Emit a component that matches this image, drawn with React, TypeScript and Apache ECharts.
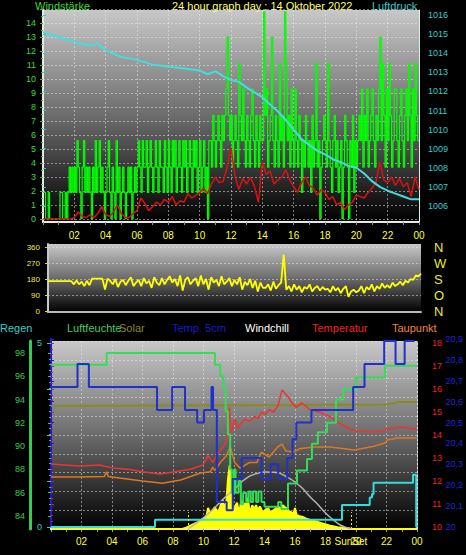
import React, { useEffect, useRef } from 'react';
import * as echarts from 'echarts';

// ---------- DATA ----------
const titleText = '24 hour graph day : 14 Oktober 2022';
const legendItems = ['Regen', 'Luftfeuchte', 'Solar', 'Temp. 5cm', 'Windchill', 'Temperatur', 'Taupunkt'];

// wind gusts, one value every 5 minutes from 00:00 to 24:00
const windGust5min = [
  1.9,1.9,0,0,1.9,0, 0,0,0,0,0,0, 0,1.9,1.9,0,0,1.9, 0,1.9,3.7,1.9,3.7,1.9,
  3.7,1.9,5.6,3.7,1.9,0, 3.7,5.6,1.9,3.7,1.9,3.7, 1.9,0,3.7,1.9,5.6,1.9, 3.7,5.6,1.9,3.7,1.9,0,
  1.9,3.7,5.6,1.9,0,3.7, 1.9,0,5.6,1.9,3.7,0, 1.9,3.7,1.9,0,1.9,3.7, 1.9,3.7,0,1.9,3.7,1.9,
  3.7,5.6,3.7,1.9,5.6,3.7, 3.7,5.6,1.9,3.7,5.6,3.7, 1.9,3.7,5.6,3.7,1.9,5.6, 3.7,3.7,1.9,5.6,3.7,1.9,
  5.6,3.7,1.9,5.6,3.7,5.6, 1.9,3.7,5.6,3.7,1.9,5.6, 3.7,5.6,1.9,3.7,5.6,3.7, 1.9,5.6,3.7,5.6,1.9,3.7,
  5.6,1.9,3.7,5.6,1.9,3.7, 0,5.6,5.6,3.7,7.4,5.6, 3.7,5.6,7.4,5.6,3.7,7.4, 5.6,7.4,9.3,13,7.4,5.6,
  7.4,3.7,5.6,7.4,5.6,3.7, 11.1,7.4,5.6,9.3,5.6,3.7, 7.4,5.6,3.7,7.4,9.3,5.6, 3.7,7.4,5.6,3.7,7.4,5.6,
  5.6,14.8,7.4,9.3,3.7,5.6, 7.4,13,5.6,3.7,7.4,5.6, 3.7,11.1,5.6,7.4,3.7,14.8, 11.1,5.6,7.4,3.7,9.3,5.6,
  3.7,9.3,5.6,3.7,7.4,5.6, 1.9,5.6,3.7,7.4,5.6,3.7, 5.6,1.9,7.4,3.7,5.6,11.1, 3.7,5.6,0,3.7,5.6,7.4,
  5.6,3.7,11.1,5.6,3.7,1.9, 5.6,7.4,3.7,5.6,1.9,3.7, 5.6,0,3.7,7.4,5.6,3.7, 0,5.6,3.7,7.4,1.9,5.6,
  3.7,5.6,7.4,5.6,9.3,3.7, 7.4,5.6,9.3,3.7,5.6,7.4, 9.3,5.6,3.7,7.4,5.6,9.3, 13,5.6,11.1,7.4,3.7,9.3,
  5.6,11.1,7.4,3.7,5.6,9.3, 9.3,5.6,3.7,7.4,9.3,5.6, 3.7,7.4,9.3,5.6,11.1,7.4, 3.7,9.3,5.6,11.1,7.4,5.6,
  5.6,
];

// average wind, one value every 15 minutes
const windAvg15min = [
  0,0,0,0,0,0,0,0,
  0.1,0.5,0.2,0.1,0.3,0.1,0.4,0.9,
  0.3,0.2,0.5,1.0,0.4,0.1,0.1,0.4,
  0.6,1.5,1.1,0.6,0.9,1.2,1.0,1.4,
  1.2,1.6,1.0,1.3,1.2,1.8,1.5,1.7,
  1.9,2.2,1.8,2.5,3.0,2.6,2.7,3.7,
  5.1,3.1,2.1,2.9,2.5,3.0,2.3,1.2,
  4.1,3.2,3.4,2.5,2.8,3.0,3.5,2.8,
  2.3,1.9,2.6,3.0,2.4,2.2,1.7,2.1,
  1.9,1.4,1.6,1.0,1.2,0.65,1.0,1.2,
  1.7,1.6,1.5,1.9,2.2,2.6,4.1,2.8,
  2.6,3.0,2.4,2.9,2.3,2.6,1.6,3.0,
  2.1,
];

// pressure [hour, hPa]
const pressure = [
  [0,1015.1],[1,1014.85],[2,1014.6],[3,1014.4],[3.5,1014.5],[4,1014.15],[5,1013.8],[6,1013.65],
  [7,1013.4],[8,1013.3],[9,1013.2],[10,1013.1],[10.5,1012.9],[11,1013.05],[11.5,1012.8],[12,1012.6],
  [12.5,1012.5],[13,1012.2],[13.5,1011.95],[14,1011.7],[14.5,1011.3],[15,1010.95],[15.5,1010.5],
  [16,1010.0],[16.5,1009.5],[17,1009.2],[17.5,1008.9],[18,1008.7],[18.5,1008.45],[19,1008.3],
  [19.5,1008.1],[20,1008.0],[20.5,1007.7],[21,1007.3],[21.5,1007.0],[22,1006.8],[22.5,1006.65],
  [23,1006.5],[23.5,1006.35],[24,1006.35],
];

// wind direction, one value every 10 minutes
const windDir10min = [
  168,168,168,168,168,168,168,168,168,168,150,172,
  150,165,140,170,145,182,182,182,182,182,120,182,
  170,150,180,135,165,175,145,170,190,140,160,175,
  140,185,155,170,130,190,160,145,185,150,175,195,
  160,180,140,200,115,175,190,150,170,185,140,200,
  150,180,120,190,160,175,140,195,150,165,185,140,
  175,150,190,120,165,145,180,130,170,110,160,130,
  130,150,115,165,125,145,160,318,120,140,110,150,
  120,140,105,135,125,150,110,130,140,115,135,120,
  125,105,140,115,130,100,125,140,80,110,120,105,
  115,140,100,135,120,150,110,140,125,155,130,145,
  130,160,140,150,165,145,170,160,180,175,200,195,
  210,
];
const dirLetters = ['N', 'O', 'S', 'W', 'N'];

// humidity [hour, %]
const humidity = [
  [0,97],[3.65,98],[10.75,97],[11.1,96],[11.3,95],[11.45,93],[11.6,91],[11.75,88],[11.85,86],
  [12.0,88],[12.1,86],[12.3,87],[12.45,85],[12.6,86],[12.8,85.2],[12.95,86.1],[13.1,85.2],
  [13.25,86.1],[13.45,85.2],[13.6,86.1],[13.8,85.2],[14.0,84.8],[14.9,85.2],[15.1,84.6],
  [15.54,86.8],[16.13,87.9],[16.79,88.9],[17.11,90.2],[17.5,91.2],[18.1,92],[18.69,94],
  [19.15,94.9],[20.0,95.9],[21.9,96.9],[24,96.9],
];

// soil temperature 5 cm [hour, °C]
const temp5cm = [
  [0,20.67],[1.75,20.78],[2.5,20.67],[7.0,20.56],[8.0,20.67],[8.85,20.56],[9.65,20.5],[10.1,20.56],
  [10.6,20.67],[10.7,20.56],[10.95,20.12],[11.6,20.08],[12.0,20.23],[12.6,20.33],[13.9,20.23],
  [14.5,20.3],[15.0,20.23],[15.6,20.33],[15.95,20.42],[16.2,20.5],[17.2,20.56],[19.95,20.67],
  [20.7,20.78],[22.0,20.89],[22.75,20.78],[23.35,20.89],[24,20.89],
];

// temperature [hour, °C]
const temperature = [
  [0,12.74],[0.9,12.7],[1.8,12.65],[3.2,12.7],[4.07,12.56],[5.2,12.5],[6.0,12.4],[7.15,12.3],
  [8.1,12.4],[9.1,12.5],[9.97,12.7],[10.3,13.1],[10.6,12.8],[10.95,13.2],[11.4,13.6],[11.6,14.0],
  [11.7,15.2],[11.8,14.1],[11.95,14.4],[12.05,14.7],[12.25,14.3],[12.45,14.5],[12.7,14.7],
  [13.0,14.6],[13.4,14.8],[13.6,14.7],[13.8,15.0],[14.05,14.9],[14.3,15.1],[14.6,15.0],[14.9,15.3],
  [15.15,15.96],[15.5,15.7],[15.9,15.3],[16.1,15.2],[16.45,15.4],[16.98,15.1],[17.6,15.0],
  [18.3,14.8],[18.95,14.5],[19.6,14.26],[20.1,14.17],[21.2,14.13],[21.8,14.2],[22.4,14.3],
  [23.0,14.35],[23.9,14.26],[24,14.28],
];

// dew point [hour, °C]
const dewPoint = [
  [0,12.17],[1.8,12.17],[3.5,12.2],[3.65,12.4],[3.75,12.2],[4.5,12.13],[6.0,12.0],[7.3,11.9],
  [8.5,12.04],[9.8,12.35],[10.45,12.4],[10.6,12.6],[10.75,12.45],[11.1,12.8],[11.5,13.1],
  [11.75,13.5],[12.05,12.8],[12.4,12.56],[13.0,12.8],[13.5,12.8],[13.8,13.26],[14.3,13.04],
  [14.9,13.5],[15.15,13.6],[15.4,13.3],[15.9,13.26],[16.3,13.4],[17.2,13.48],[18.3,13.48],
  [19.9,13.35],[21.1,13.5],[21.9,13.65],[22.05,13.78],[22.7,13.87],[24,13.87],
];

// olive reference line [hour, °C scale]
const solarLevel = [[0,15.26],[8,15.28],[16,15.3],[22,15.33],[22.8,15.43],[24,15.43]];

// solar radiation [hour, W/m²]
const solar = [
  [0,0],[8.6,0],[8.8,5],[9.2,20],[9.6,35],[10.0,55],[10.2,70],[10.3,112],[10.45,80],[10.6,101],
  [10.75,117],[10.9,90],[11.05,108],[11.25,154],[11.4,110],[11.5,140],[11.6,260],[11.72,340],
  [11.82,200],[11.9,117],[12.0,90],[12.1,125],[12.2,140],[12.3,95],[12.4,117],[12.5,150],
  [12.6,105],[12.7,138],[12.8,120],[12.9,165],[13.0,110],[13.1,95],[13.2,127],[13.3,105],
  [13.45,127],[13.55,100],[13.7,120],[13.85,95],[13.95,90],[14.1,105],[14.25,110],[14.4,85],
  [14.5,95],[14.6,100],[14.75,110],[14.9,120],[15.05,105],[15.2,127],[15.35,115],[15.45,110],
  [15.6,95],[15.75,90],[15.9,80],[16.0,112],[16.1,75],[16.25,70],[16.5,64],[16.75,55],[17.0,48],
  [17.3,42],[17.5,37],[17.8,30],[18.0,25],[18.3,18],[18.5,15],[18.8,10],[19.0,8],[19.3,5],
  [19.5,3],[19.8,0],[24,0],
];

// theoretical clear sky radiation [hour, W/m²]
const solarClearSky = [
  [9.0,0],[9.5,30],[10,60],[10.5,95],[11,135],[11.5,175],[12,210],[12.5,250],[13,280],[13.5,295],
  [14,303],[14.5,302],[15,296],[15.5,275],[16,250],[16.5,215],[17,170],[17.5,130],[18,85],
  [18.5,50],[19,20],[19.5,5],[19.7,0],
];

// rain [hour, mm]
const rain = [
  [0,0],[6.82,0.2],[19.08,0.6],[20.9,0.8],[21.05,0.9],[21.15,1.2],[23.74,1.42],[23.95,0],[24,0],
];

const sunEvents = [8.98, 19.67];

// ---------- CHART ----------
const FONT = '"Liberation Sans", Arial, sans-serif';
const xFmt = (v: number) => (v === 0 ? '' : String(v % 24).padStart(2, '0'));
const splitStyle = { color: 'rgba(235,235,235,0.5)', width: 1, type: [2, 2] as any };
const bg = () =>
  new echarts.graphic.LinearGradient(0, 0, 0, 1, [
    { offset: 0, color: '#c8c8c8' },
    { offset: 0.5, color: '#6c6c6c' },
    { offset: 1, color: '#000000' },
  ]);
const hiddenX = (g: number) => ({ type: 'value', gridIndex: g, min: 0, max: 24, show: false });

function buildOption(): any {
  const gustData = windGust5min.map((v, i) => [(i * 5) / 60, v]);
  const avgData = windAvg15min.map((v, i) => [(i * 15) / 60, v]);
  const dirData = windDir10min.map((v, i) => [(i * 10) / 60, v]);

  const legendX = [0, 67, 119, 172, 245, 312, 392];
  const legendColors = ['#33cccc', '#44cc66', '#888833', '#1a1acc', '#ffffff', '#ee2222', '#ee8833'];

  const xMain = (g: number, margin: number) => ({
    type: 'value', gridIndex: g, min: 0, max: 24, interval: 2,
    axisLine: { show: true, lineStyle: { color: '#e8e8e8', width: 2 } },
    axisTick: { show: true, length: 3, lineStyle: { color: '#999' } },
    minorTick: { show: true, splitNumber: 2, length: 3, lineStyle: { color: '#999' } },
    axisLabel: { color: '#ffff33', fontSize: 10, margin, formatter: xFmt, fontFamily: FONT },
    splitLine: { show: true, lineStyle: splitStyle },
  });

  return {
    animation: false,
    backgroundColor: '#000',
    textStyle: { fontFamily: FONT },
    grid: [
      { left: 43, top: 10, width: 376, height: 212, show: true, backgroundColor: bg(), borderWidth: 0 },
      { left: 43, top: 9, width: 376, height: 210 },
      { left: 43, top: 15, width: 376, height: 191 },
      { left: 48, top: 244, width: 373, height: 68, show: true, backgroundColor: bg(), borderWidth: 0 },
      { left: 48, top: 247, width: 373, height: 64 },
      { left: 51, top: 341, width: 366, height: 188, show: true, backgroundColor: bg(), borderWidth: 0 },
      { left: 51, top: 353, width: 366, height: 163 },
      { left: 51, top: 343, width: 366, height: 184 },
      { left: 51, top: 343, width: 366, height: 184 },
      { left: 51, top: 339, width: 366, height: 188 },
    ],
    xAxis: [
      xMain(0, 8),
      hiddenX(1),
      hiddenX(2),
      {
        type: 'value', gridIndex: 3, min: 0, max: 24,
        axisLine: { show: true, lineStyle: { color: '#b8b8b8', width: 2 } },
        axisTick: { show: false }, axisLabel: { show: false }, splitLine: { show: false },
      },
      hiddenX(4),
      xMain(5, 7),
      hiddenX(6),
      hiddenX(7),
      hiddenX(8),
      hiddenX(9),
    ],
    yAxis: [
      { type: 'value', gridIndex: 0, min: 0, max: 1, axisLine: { show: true, lineStyle: { color: '#e8e8e8', width: 2 } }, axisTick: { show: false }, axisLabel: { show: false }, splitLine: { show: false } },
      { type: 'value', gridIndex: 0, position: 'right', min: 0, max: 1, axisLine: { show: true, lineStyle: { color: '#d8f0f0', width: 1 } }, axisTick: { show: false }, axisLabel: { show: false }, splitLine: { show: false } },
      {
        type: 'value', gridIndex: 1, min: 0, max: 15, interval: 1, position: 'left',
        axisLine: { show: false },
        axisTick: { show: true, length: 3, lineStyle: { color: '#22cc22' } },
        minorTick: { show: true, splitNumber: 2, length: 2, lineStyle: { color: '#22cc22' } },
        axisLabel: { color: '#33dd33', fontSize: 9, margin: 7, formatter: (v: number) => (v === 15 ? '' : String(v)) },
        splitLine: { show: true, lineStyle: splitStyle },
      },
      {
        type: 'value', gridIndex: 2, min: 1006, max: 1016, interval: 1, position: 'right',
        axisLine: { show: false },
        axisTick: { show: true, length: 3, lineStyle: { color: '#33cccc' } },
        axisLabel: { color: '#33cccc', fontSize: 9, margin: 9, formatter: (v: number) => String(v) },
        splitLine: { show: false },
      },
      { type: 'value', gridIndex: 3, min: 0, max: 1, axisLine: { show: true, lineStyle: { color: '#c8c8c8', width: 2 } }, axisTick: { show: false }, axisLabel: { show: false }, splitLine: { show: false } },
      {
        type: 'value', gridIndex: 4, min: 0, max: 360, interval: 90, position: 'left',
        axisLine: { show: false },
        axisTick: { show: true, length: 3, lineStyle: { color: '#dddd22' } },
        axisLabel: { color: '#eeee33', fontSize: 8, margin: 8 },
        splitLine: { show: true, lineStyle: splitStyle },
      },
      {
        type: 'value', gridIndex: 4, min: 0, max: 360, interval: 90, position: 'right',
        axisLine: { show: false }, axisTick: { show: false }, splitLine: { show: false },
        axisLabel: { color: '#eeee22', fontSize: 13, margin: 13, formatter: (v: number) => dirLetters[Math.round(v / 90)] },
      },
      {
        type: 'value', gridIndex: 5, min: 0, max: 1000, interval: 100, position: 'left',
        axisLine: { show: true, lineStyle: { color: '#e8e8e8', width: 2 } },
        axisTick: { show: false }, axisLabel: { show: false },
        splitLine: { show: true, lineStyle: splitStyle },
      },
      { type: 'value', gridIndex: 5, position: 'right', min: 0, max: 1, axisLine: { show: true, lineStyle: { color: '#e0e0e0', width: 1, type: [2, 2] } }, axisTick: { show: false }, axisLabel: { show: false }, splitLine: { show: false } },
      { type: 'value', gridIndex: 5, position: 'left', offset: 21, min: 0, max: 1, axisLine: { show: true, lineStyle: { color: '#33cc55', width: 3 } }, axisTick: { show: false }, axisLabel: { show: false }, splitLine: { show: false } },
      {
        type: 'value', gridIndex: 6, min: 84, max: 98, interval: 2, position: 'left', offset: 21,
        axisLine: { show: false },
        axisTick: { show: true, length: 3, lineStyle: { color: '#33cc55' } },
        minorTick: { show: true, splitNumber: 4, length: 2, lineStyle: { color: '#33cc55' } },
        axisLabel: { color: '#33cc55', fontSize: 9, margin: 5 },
        splitLine: { show: false },
      },
      {
        type: 'value', gridIndex: 7, min: 0, max: 5, interval: 1.25, position: 'left', offset: 2,
        axisLine: { show: false },
        axisTick: { show: true, length: 4, lineStyle: { color: '#33cccc' } },
        axisLabel: { color: '#33cccc', fontSize: 9, margin: 7, formatter: (v: number) => (v === 0 || v === 5 ? String(v) : '') },
        splitLine: { show: false },
      },
      {
        type: 'value', gridIndex: 8, min: 10, max: 18, interval: 1, position: 'right', offset: 10,
        axisLine: { show: true, lineStyle: { color: '#bb2222', width: 1, type: [3, 3] } },
        axisTick: { show: true, length: 3, lineStyle: { color: '#cc2222' } },
        minorTick: { show: true, splitNumber: 4, length: 2, lineStyle: { color: '#cc2222' } },
        axisLabel: { color: '#ee2222', fontSize: 9, margin: 5 },
        splitLine: { show: false },
      },
      {
        type: 'value', gridIndex: 9, min: 20, max: 20.9, interval: 0.1, position: 'right', offset: 26,
        axisLine: { show: true, lineStyle: { color: '#1a1add', width: 2 } },
        axisTick: { show: true, length: 3, lineStyle: { color: '#1a1add' } },
        axisLabel: { color: '#2222dd', fontSize: 9, margin: 5, formatter: (v: number) => String(Math.round(v * 10) / 10).replace('.', ',') },
        splitLine: { show: false },
      },
    ],
    series: [
      { type: 'line', name: 'Böen', xAxisIndex: 1, yAxisIndex: 2, data: gustData, step: 'end', symbol: 'none', lineStyle: { color: '#00ff00', width: 1.2 } },
      { type: 'line', name: 'Wind', xAxisIndex: 1, yAxisIndex: 2, data: avgData, symbol: 'none', lineStyle: { color: '#dd1111', width: 1.5 } },
      { type: 'line', name: 'Luftdruck', xAxisIndex: 2, yAxisIndex: 3, data: pressure, symbol: 'none', lineStyle: { color: '#44dddd', width: 2 } },
      { type: 'line', name: 'Windrichtung', xAxisIndex: 4, yAxisIndex: 5, data: dirData, symbol: 'none', lineStyle: { color: '#ffff00', width: 1.8 } },
      {
        type: 'line', name: 'Solar', xAxisIndex: 5, yAxisIndex: 7, data: solar, symbol: 'none',
        lineStyle: { color: '#ffff00', width: 2 }, areaStyle: { color: '#ffff00', opacity: 1 },
        markLine: {
          silent: true, symbol: 'none', label: { show: false },
          lineStyle: { color: '#eeee00', width: 1, type: [2, 2] },
          data: sunEvents.map((h) => [{ coord: [h, 0] }, { coord: [h, 90] }]),
        },
      },
      { type: 'line', name: 'Solar max', xAxisIndex: 5, yAxisIndex: 7, data: solarClearSky, smooth: true, symbol: 'none', lineStyle: { color: '#b4b4b4', width: 1.5 } },
      { type: 'line', name: 'Regen', xAxisIndex: 7, yAxisIndex: 11, data: rain, step: 'end', symbol: 'none', lineStyle: { color: '#33dddd', width: 2 } },
      { type: 'line', name: 'Solar level', xAxisIndex: 8, yAxisIndex: 12, data: solarLevel, symbol: 'none', lineStyle: { color: '#8a8a1e', width: 2 } },
      { type: 'line', name: 'Temperatur', xAxisIndex: 8, yAxisIndex: 12, data: temperature, symbol: 'none', lineStyle: { color: '#ee3333', width: 1.5 } },
      { type: 'line', name: 'Taupunkt', xAxisIndex: 8, yAxisIndex: 12, data: dewPoint, symbol: 'none', lineStyle: { color: '#dd7722', width: 1.5 } },
      { type: 'line', name: 'Luftfeuchte', xAxisIndex: 6, yAxisIndex: 10, data: humidity, step: 'end', symbol: 'none', lineStyle: { color: '#33dd55', width: 2 } },
      { type: 'line', name: 'Temp. 5cm', xAxisIndex: 9, yAxisIndex: 13, data: temp5cm, step: 'end', symbol: 'none', lineStyle: { color: '#2030cc', width: 2 } },
    ],
    graphic: [
      { type: 'text', x: 35, y: 0, style: { text: 'Windstärke', fill: '#33dd33', fontSize: 11, fontFamily: FONT } },
      { type: 'text', x: 172, y: 0, style: { text: titleText, fill: '#ffff66', fontSize: 11, fontFamily: FONT } },
      { type: 'text', x: 372, y: 0, style: { text: 'Luftdruck', fill: '#33cccc', fontSize: 11, fontFamily: FONT } },
      ...legendItems.map((t, i) => ({
        type: 'text', x: legendX[i], y: 322,
        style: { text: t, fill: legendColors[i], fontSize: 11, fontFamily: FONT },
      })),
      { type: 'text', x: 351, y: 536, style: { text: 'SunSet', fill: '#ffff33', fontSize: 10, fontFamily: FONT, align: 'center' } },
    ],
  };
}

export default function App() {
  const ref = useRef<HTMLDivElement>(null);
  useEffect(() => {
    document.body.style.margin = '0';
    document.body.style.background = '#000';
    const chart = echarts.init(ref.current!, null, { renderer: 'svg' });
    chart.setOption(buildOption());
    return () => chart.dispose();
  }, []);
  return <div ref={ref} style={{ width: 466, height: 555, background: '#000' }} />;
}
